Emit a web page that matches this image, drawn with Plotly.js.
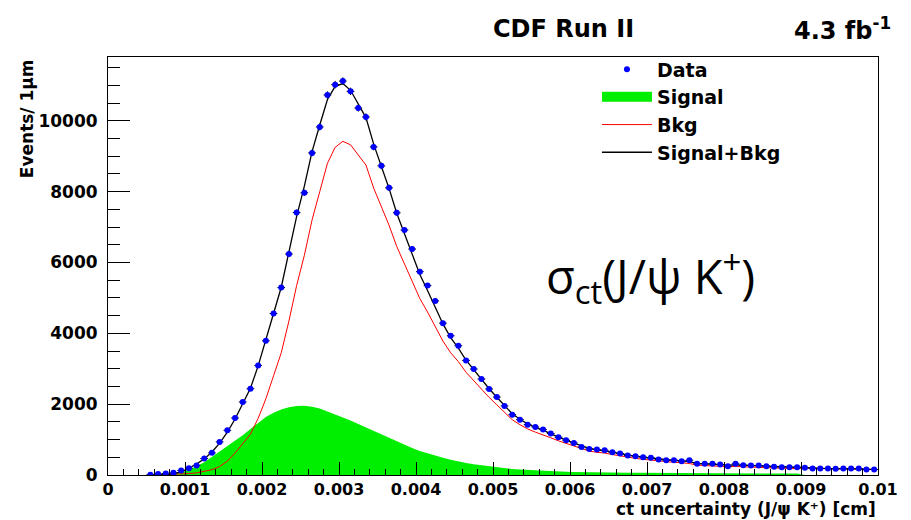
<!DOCTYPE html>
<html>
<head>
<meta charset="utf-8">
<script src="https://cdn.plot.ly/plotly-3.0.1.min.js"></script>
<style>
  html, body { margin: 0; padding: 0; background: #fff; }
  #chart { width: 911px; height: 520px; }
</style>
</head>
<body>
<div id="chart"></div>
<script>
// Bin centres of the 1 µm histogram (cm)
const binCenters = [
  0.00055, 0.00065, 0.00075, 0.00085, 0.00095, 0.00105, 0.00115, 0.00125, 0.00135, 0.00145,
  0.00155, 0.00165, 0.00175, 0.00185, 0.00195, 0.00205, 0.00215, 0.00225, 0.00235, 0.00245,
  0.00255, 0.00265, 0.00275, 0.00285, 0.00295, 0.00305, 0.00315, 0.00325, 0.00335, 0.00345,
  0.00355, 0.00365, 0.00375, 0.00385, 0.00395, 0.00405, 0.00415, 0.00425, 0.00435, 0.00445,
  0.00455, 0.00465, 0.00475, 0.00485, 0.00495, 0.00505, 0.00515, 0.00525, 0.00535, 0.00545,
  0.00555, 0.00565, 0.00575, 0.00585, 0.00595, 0.00605, 0.00615, 0.00625, 0.00635, 0.00645,
  0.00655, 0.00665, 0.00675, 0.00685, 0.00695, 0.00705, 0.00715, 0.00725, 0.00735, 0.00745,
  0.00755, 0.00765, 0.00775, 0.00785, 0.00795, 0.00805, 0.00815, 0.00825, 0.00835, 0.00845,
  0.00855, 0.00865, 0.00875, 0.00885, 0.00895, 0.00905, 0.00915, 0.00925, 0.00935, 0.00945,
  0.00955, 0.00965, 0.00975, 0.00985, 0.00995
];
// Data: events per 1 µm
const dataCounts = [
  10, 30, 42, 60, 127, 192, 268, 465, 625, 935,
  1262, 1610, 2062, 2435, 3093, 3789, 4558, 5290, 6239, 7410,
  7966, 9093, 9826, 10727, 11020, 11121, 10831, 10361, 10107, 9262,
  8727, 8107, 7403, 6915, 6380, 5741, 5347, 4915, 4287, 3930,
  3648, 3234, 2992, 2710, 2430, 2200, 1950, 1704, 1563, 1422,
  1357, 1282, 1169, 1066, 981, 906, 793, 737, 718, 699,
  643, 606, 549, 530, 501, 484, 437, 418, 418, 390,
  418, 315, 315, 315, 296, 249, 315, 277, 268, 268,
  249, 230, 221, 221, 221, 202, 183, 183, 183, 174,
  183, 183, 183, 155, 155
];
// Signal fit component
const signalFit = [
  0, 0, 5, 20, 60, 150, 250, 360, 500, 660,
  820, 960, 1120, 1300, 1480, 1640, 1760, 1850, 1910, 1950,
  1955, 1930, 1880, 1800, 1720, 1630, 1540, 1440, 1340, 1240,
  1140, 1040, 940, 850, 760, 680, 610, 545, 485, 430,
  380, 340, 305, 275, 245, 215, 190, 168, 155, 142,
  135, 125, 112, 102, 93, 86, 80, 76, 73, 70,
  68, 66, 63, 61, 59, 57, 55, 54, 53, 52,
  51, 50, 49, 48, 47, 46, 45, 45, 44, 44,
  43, 43, 42, 42, 41, 0, 0, 0, 0, 0,
  0, 0, 0, 0, 0
];
// Background fit component
const bkgFit = [
  0, 5, 10, 20, 30, 40, 60, 95, 150, 240,
  390, 620, 880, 1150, 1600, 2150, 2800, 3450, 4350, 5350,
  6200, 7200, 8000, 8800, 9250, 9420, 9320, 9050, 8750, 8100,
  7600, 7050, 6450, 5950, 5480, 4980, 4600, 4200, 3780, 3450,
  3200, 2900, 2660, 2430, 2190, 1980, 1760, 1560, 1420, 1300,
  1210, 1140, 1050, 965, 890, 815, 735, 675, 640, 620,
  578, 536, 497, 470, 442, 418, 390, 366, 358, 345,
  325, 280, 266, 262, 248, 234, 240, 230, 221, 216,
  207, 192, 183, 180, 177, 205, 190, 185, 182, 178,
  180, 178, 175, 162, 158
];
// Signal + background fit
const totalFit = [
  0, 5, 15, 40, 90, 190, 310, 455, 650, 900,
  1210, 1580, 2000, 2450, 3080, 3790, 4560, 5300, 6260, 7300,
  8155, 9130, 9880, 10600, 10970, 11050, 10860, 10490, 10090, 9340,
  8740, 8090, 7390, 6800, 6240, 5660, 5210, 4745, 4265, 3880,
  3580, 3240, 2965, 2705, 2435, 2195, 1950, 1728, 1575, 1442,
  1345, 1265, 1162, 1067, 983, 901, 815, 751, 713, 690,
  646, 602, 560, 531, 501, 475, 445, 420, 411, 397,
  376, 330, 315, 310, 295, 280, 285, 275, 265, 260,
  250, 235, 225, 222, 218, 205, 190, 185, 182, 178,
  180, 178, 175, 162, 158
];
const seriesNames = ['Data', 'Signal', 'Bkg', 'Signal+Bkg'];

const FONT = 'DejaVu Sans, Liberation Sans, Arial, sans-serif';
const GREEN = '#00ee00';

const traces = [
  {
    x: binCenters, y: signalFit, type: 'scatter', mode: 'lines',
    line: {width: 0, color: GREEN},
    fill: 'tozeroy', fillcolor: GREEN,
    showlegend: false, hoverinfo: 'skip'
  },
  {
    // legend entry for the filled signal component
    x: [null], y: [null], type: 'scatter', mode: 'lines', name: seriesNames[1],
    line: {color: GREEN, width: 14},
    legendrank: 2
  },
  {
    x: binCenters, y: bkgFit, type: 'scatter', mode: 'lines', name: seriesNames[2],
    line: {color: '#ff0000', width: 1}, legendrank: 3
  },
  {
    x: binCenters, y: totalFit, type: 'scatter', mode: 'lines', name: seriesNames[3],
    line: {color: '#000000', width: 1.3}, legendrank: 4
  },
  {
    x: binCenters, y: dataCounts, type: 'scatter', mode: 'markers', name: seriesNames[0],
    marker: {color: '#0000ff', size: 6, symbol: 'circle'},
    error_x: {type: 'constant', value: 0.00005, color: '#000', thickness: 1, width: 0},
    error_y: {type: 'sqrt', color: '#000', thickness: 1, width: 0},
    legendrank: 1
  }
];

const axisCommon = {
  showline: true, mirror: true, linecolor: '#000', linewidth: 1,
  showgrid: false, zeroline: false,
  ticks: 'inside', tickcolor: '#000', tickwidth: 1
};

const layout = {
  width: 911, height: 520,
  margin: {l: 108, r: 33, t: 57, b: 45, pad: 0},
  paper_bgcolor: '#fff', plot_bgcolor: '#fff',
  font: {family: FONT, color: '#000'},
  showlegend: true,
  legend: {
    x: 0.635, y: 1.016, xanchor: 'left', yanchor: 'top',
    bgcolor: 'rgba(0,0,0,0)', borderwidth: 0,
    font: {family: FONT, size: 19, weight: 700, color: '#000'},
    itemwidth: 50, tracegroupgap: 0
  },
  xaxis: Object.assign({}, axisCommon, {
    range: [0, 0.01], tick0: 0, dtick: 0.001, ticklen: 13,
    ticklabelstandoff: 0,
    tickfont: {family: FONT, size: 16, weight: 700, color: '#000'},
    minor: {dtick: 0.0002, ticks: 'inside', ticklen: 6, tickcolor: '#000', tickwidth: 1, showgrid: false}
  }),
  yaxis: Object.assign({}, axisCommon, {
    range: [0, 11800], tick0: 0, dtick: 2000, ticklen: 22, tickformat: 'd',
    ticklabelstandoff: 6,
    tickfont: {family: FONT, size: 17, weight: 700, color: '#000'},
    minor: {dtick: 500, ticks: 'inside', ticklen: 12, tickcolor: '#000', tickwidth: 1, showgrid: false}
  }),
  annotations: [
    {text: 'CDF Run II', xref: 'paper', yref: 'paper', x: 0.592, y: 1.068,
     xanchor: 'center', yanchor: 'middle', showarrow: false,
     font: {family: FONT, size: 24, weight: 700, color: '#000'}},
    {text: '4.3 fb<sup>-1</sup>', xref: 'paper', yref: 'paper', x: 1.02, y: 1.068,
     xanchor: 'right', yanchor: 'middle', showarrow: false,
     font: {family: FONT, size: 24, weight: 700, color: '#000'}},
    {text: 'Events/ 1µm', xref: 'paper', yref: 'paper', x: -0.09, y: 1.0,
     xanchor: 'right', yanchor: 'top', textangle: -90, showarrow: false,
     font: {family: FONT, size: 17, weight: 700, color: '#000'}},
    {text: 'ct uncertainty (J/ψ K⁺) [cm]', xref: 'paper', yref: 'paper', x: 1.0, y: 0,
     xanchor: 'right', yanchor: 'middle', yshift: -34, showarrow: false,
     font: {family: FONT, size: 17, weight: 700, color: '#000'}},
    {text: 'σ<sub>ct</sub>(J/ψ K<sup>+</sup>)', xref: 'paper', yref: 'paper', x: 0.704, y: 0.474,
     xanchor: 'center', yanchor: 'middle', showarrow: false,
     font: {family: 'Open Sans, Noto Sans, sans-serif', size: 47, color: '#000'}}
  ]
};

Plotly.newPlot('chart', traces, layout, {displayModeBar: false, staticPlot: true});
</script>
</body>
</html>
